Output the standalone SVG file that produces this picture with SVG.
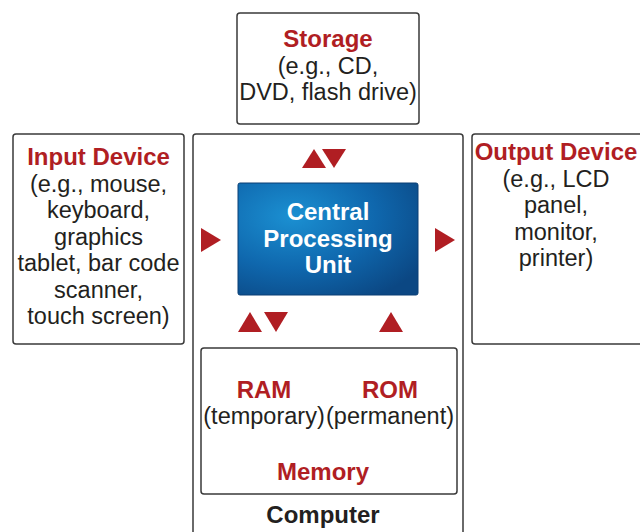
<svg xmlns="http://www.w3.org/2000/svg" width="640" height="532" viewBox="0 0 640 532">
  <defs>
    <radialGradient id="cpuFill" cx="0.3" cy="0.3" r="0.85">
      <stop offset="0" stop-color="#1b90d2"/>
      <stop offset="0.55" stop-color="#0f67ad"/>
      <stop offset="1" stop-color="#0b4783"/>
    </radialGradient>
  </defs>
  <style>
    .box { fill: #ffffff; stroke: #3a3a3a; stroke-width: 1.5; }
    .t { font-family: "Liberation Sans", Arial, Helvetica, sans-serif; font-size: 23.5px; text-anchor: middle; fill: #231f20; }
    .h { font-weight: bold; font-size: 24px; fill: #b01e23; }
    .w { font-weight: bold; font-size: 24px; fill: #ffffff; }
    .k { font-weight: bold; font-size: 24px; fill: #231f20; }
    .arrow { fill: #b01e23; }
  </style>
  <rect width="640" height="532" fill="#ffffff"/>

  <!-- Computer enclosure -->
  <g id="computer">
    <rect class="box" x="193" y="134" width="270" height="410" rx="3"/>
    <text class="t k" x="323" y="523">Computer</text>
  </g>

  <!-- Storage -->
  <g id="storage">
    <rect class="box" x="237" y="13" width="182" height="111" rx="3"/>
    <text class="t h" x="328" y="47">Storage</text>
    <text class="t" x="328" y="73.5">(e.g., CD,</text>
    <text class="t" x="328" y="100">DVD, flash drive)</text>
  </g>

  <!-- Input device -->
  <g id="input">
    <rect class="box" x="13" y="134" width="171" height="210" rx="3"/>
    <text class="t h" x="98.5" y="165">Input Device</text>
    <text class="t" x="98.5" y="191.5">(e.g., mouse,</text>
    <text class="t" x="98.5" y="218">keyboard,</text>
    <text class="t" x="98.5" y="244.5">graphics</text>
    <text class="t" x="98.5" y="271">tablet, bar code</text>
    <text class="t" x="98.5" y="297.5">scanner,</text>
    <text class="t" x="98.5" y="324">touch screen)</text>
  </g>

  <!-- Output device -->
  <g id="output">
    <rect class="box" x="472" y="134" width="172" height="210" rx="3"/>
    <text class="t h" x="556" y="160">Output Device</text>
    <text class="t" x="556" y="186.5">(e.g., LCD</text>
    <text class="t" x="556" y="213">panel,</text>
    <text class="t" x="556" y="239.5">monitor,</text>
    <text class="t" x="556" y="266">printer)</text>
  </g>

  <!-- CPU -->
  <g id="cpu">
    <rect x="238" y="183" width="180" height="112" rx="2" fill="url(#cpuFill)" stroke="#0a3f75" stroke-width="1"/>
    <text class="t w" x="328" y="220">Central</text>
    <text class="t w" x="328" y="246.5">Processing</text>
    <text class="t w" x="328" y="273">Unit</text>
  </g>

  <!-- Memory -->
  <g id="memory">
    <rect class="box" x="201" y="348" width="256" height="146" rx="3"/>
    <text class="t h" x="264" y="398">RAM</text>
    <text class="t h" x="390" y="398">ROM</text>
    <text class="t" x="264" y="424">(temporary)</text>
    <text class="t" x="390" y="424">(permanent)</text>
    <text class="t h" x="323" y="480">Memory</text>
  </g>

  <!-- Data-flow arrowheads -->
  <g id="connectors">
    <polygon class="arrow" points="302,168 314,149 326,168"/>
    <polygon class="arrow" points="322,149 346,149 334,168"/>
    <polygon class="arrow" points="201,228 221,240 201,252"/>
    <polygon class="arrow" points="435,228 455,240 435,252"/>
    <polygon class="arrow" points="238,332 250,312 262,332"/>
    <polygon class="arrow" points="264,312 288,312 276,332"/>
    <polygon class="arrow" points="379,332 391,312 403,332"/>
  </g>
</svg>
